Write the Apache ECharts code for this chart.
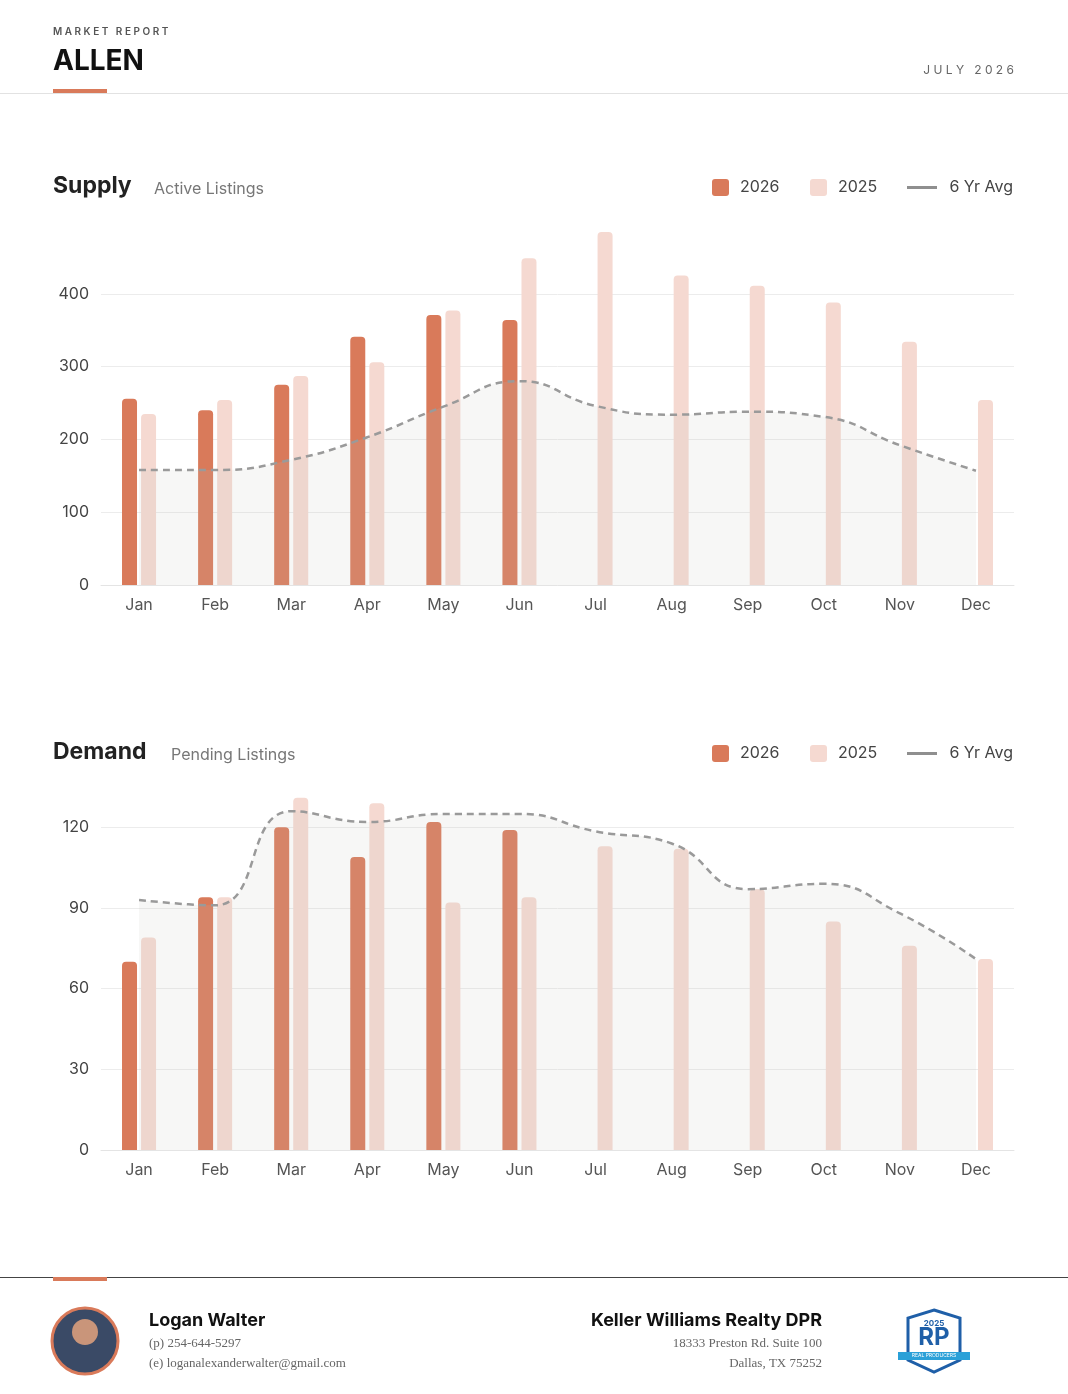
<!DOCTYPE html>
<html><head><meta charset="utf-8">
<script src="https://cdn.jsdelivr.net/npm/echarts@6/dist/echarts.min.js"></script>
<style>html,body{margin:0;padding:0;background:#fff}#c{width:1068px;height:1394px}</style>
</head><body><div id="c"></div>
<script>
const months=['Jan','Feb','Mar','Apr','May','Jun','Jul','Aug','Sep','Oct','Nov','Dec'];
const supply2026=[256,240,275,341,371,364,null,null,null,null,null,null];
const supply2025=[235,254,287,306,377,449,485,425,411,388,334,254];
const supplyAvg=[158,158,172,203,245,280,246,234,238,231,192,157];
const demand2026=[70,94,120,109,122,119,null,null,null,null,null,null];
const demand2025=[79,94,131,129,92,94,113,112,97,85,76,71];
const demandAvg=[93,91,126,122,125,125,118.5,114,97,99,88,71];

const F='Inter, "Noto Sans", sans-serif';
const chart=echarts.init(document.getElementById('c'));
const grids=[{left:101,right:54,top:221,height:364},{left:101,right:54,top:787,height:363}];
function xAx(i){return {type:'category',gridIndex:i,data:months,axisTick:{show:false},
 axisLine:{lineStyle:{color:'#e4e4e4'}},axisLabel:{color:'#555',fontSize:16,fontFamily:F,margin:12}};}
function yAx(i,max,int){return {type:'value',gridIndex:i,min:0,max:max,interval:int,
 axisLabel:{color:'#444',fontSize:16,fontFamily:F,margin:12,showMaxLabel:false,formatter:v=>v>=max-0.01?'':v},
 splitLine:{showMaxLine:false,lineStyle:{color:'#ececec'}}};}
function series(i,a,b,avg){return [
 {type:'bar',xAxisIndex:i,yAxisIndex:i,data:a,barWidth:15,barGap:'27%',itemStyle:{color:'#d97a5a',borderRadius:[4,4,0,0]}},
 {type:'bar',xAxisIndex:i,yAxisIndex:i,data:b,barWidth:15,itemStyle:{color:'#f5d9d1',borderRadius:[4,4,0,0]}},
 {type:'line',xAxisIndex:i,yAxisIndex:i,data:avg,smooth:0.5,symbol:'none',z:5,
  lineStyle:{color:'#9a9a9a',width:2.5,type:[7,5]},areaStyle:{color:'rgba(200,200,190,0.2)'}}
];}
function legend(y){return [
 {type:'rect',shape:{x:712,y:y-8,width:17,height:17,r:3},style:{fill:'#d97a5a'}},
 {type:'text',x:740,y:y,style:{text:'2026',fill:'#444',font:'16px '+F,textVerticalAlign:'middle'}},
 {type:'rect',shape:{x:810,y:y-8,width:17,height:17,r:3},style:{fill:'#f5d9d1'}},
 {type:'text',x:838,y:y,style:{text:'2025',fill:'#444',font:'16px '+F,textVerticalAlign:'middle'}},
 {type:'rect',shape:{x:907,y:y-1,width:30,height:3},style:{fill:'#8f8f8f'}},
 {type:'text',x:1013,y:y,style:{text:'6 Yr Avg',fill:'#444',font:'16px '+F,textVerticalAlign:'middle',textAlign:'right'}}
];}
const g=[
 {type:'text',x:53,y:27,style:{text:'M A R K E T   R E P O R T',fill:'#555',font:'600 10px '+F}},
 {type:'text',x:53,y:48,style:{text:'ALLEN',fill:'#111',font:'bold 28px '+F}},
 {type:'rect',shape:{x:53,y:89,width:54,height:4},style:{fill:'#d97a5a'}},
 {type:'rect',shape:{x:0,y:93,width:1068,height:1},style:{fill:'#e2e2e2'}},
 {type:'text',x:1014,y:64,style:{text:'J U L Y   2 0 2 6',fill:'#666',font:'12px '+F,textAlign:'right'}},
 {type:'text',x:53,y:175,style:{text:'Supply',fill:'#222',font:'bold 23px '+F}},
 {type:'text',x:154,y:181,style:{text:'Active Listings',fill:'#777',font:'16px '+F}},
 {type:'text',x:53,y:741,style:{text:'Demand',fill:'#222',font:'bold 23px '+F}},
 {type:'text',x:171,y:747,style:{text:'Pending Listings',fill:'#777',font:'16px '+F}},
 ...legend(187),...legend(753),
 {type:'rect',shape:{x:0,y:1277,width:1068,height:1},style:{fill:'#444'}},
 {type:'rect',shape:{x:53,y:1277,width:54,height:4},style:{fill:'#d97a5a'}},
 {type:'circle',shape:{cx:85,cy:1341,r:33},style:{fill:'#3a4a66',stroke:'#d97a5a',lineWidth:3}},
 {type:'circle',shape:{cx:85,cy:1332,r:13},style:{fill:'#c9957a'}},
 {type:'text',x:149,y:1312,style:{text:'Logan Walter',fill:'#111',font:'bold 18px '+F}},
 {type:'text',x:149,y:1337,style:{text:'(p) 254-644-5297',fill:'#666',font:'13px "Liberation Serif", serif'}},
 {type:'text',x:149,y:1357,style:{text:'(e) loganalexanderwalter@gmail.com',fill:'#666',font:'13px "Liberation Serif", serif'}},
 {type:'text',x:822,y:1312,style:{text:'Keller Williams Realty DPR',fill:'#111',font:'bold 18px '+F,textAlign:'right'}},
 {type:'text',x:822,y:1337,style:{text:'18333 Preston Rd. Suite 100',fill:'#666',font:'13px "Liberation Serif", serif',textAlign:'right'}},
 {type:'text',x:822,y:1357,style:{text:'Dallas, TX 75252',fill:'#666',font:'13px "Liberation Serif", serif',textAlign:'right'}},
 {type:'polygon',shape:{points:[[934,1310],[960,1318],[960,1360],[934,1372],[908,1360],[908,1318]]},style:{fill:'#fff',stroke:'#1f5fa8',lineWidth:3}},
 {type:'text',x:934,y:1320,style:{text:'2025',fill:'#1f5fa8',font:'bold 8px '+F,textAlign:'center'}},
 {type:'text',x:934,y:1326,style:{text:'RP',fill:'#1f5fa8',font:'bold 24px '+F,textAlign:'center'}},
 {type:'rect',shape:{x:898,y:1352,width:72,height:8},style:{fill:'#2aa0d8'}},
 {type:'text',x:934,y:1353,style:{text:'REAL PRODUCERS',fill:'#fff',font:'5px '+F,textAlign:'center'}}
];
chart.setOption({animation:false,grid:grids,
 xAxis:[xAx(0),xAx(1)],yAxis:[yAx(0,500,100),yAx(1,135,30)],
 series:[...series(0,supply2026,supply2025,supplyAvg),...series(1,demand2026,demand2025,demandAvg)],
 graphic:g});
</script></body></html>
